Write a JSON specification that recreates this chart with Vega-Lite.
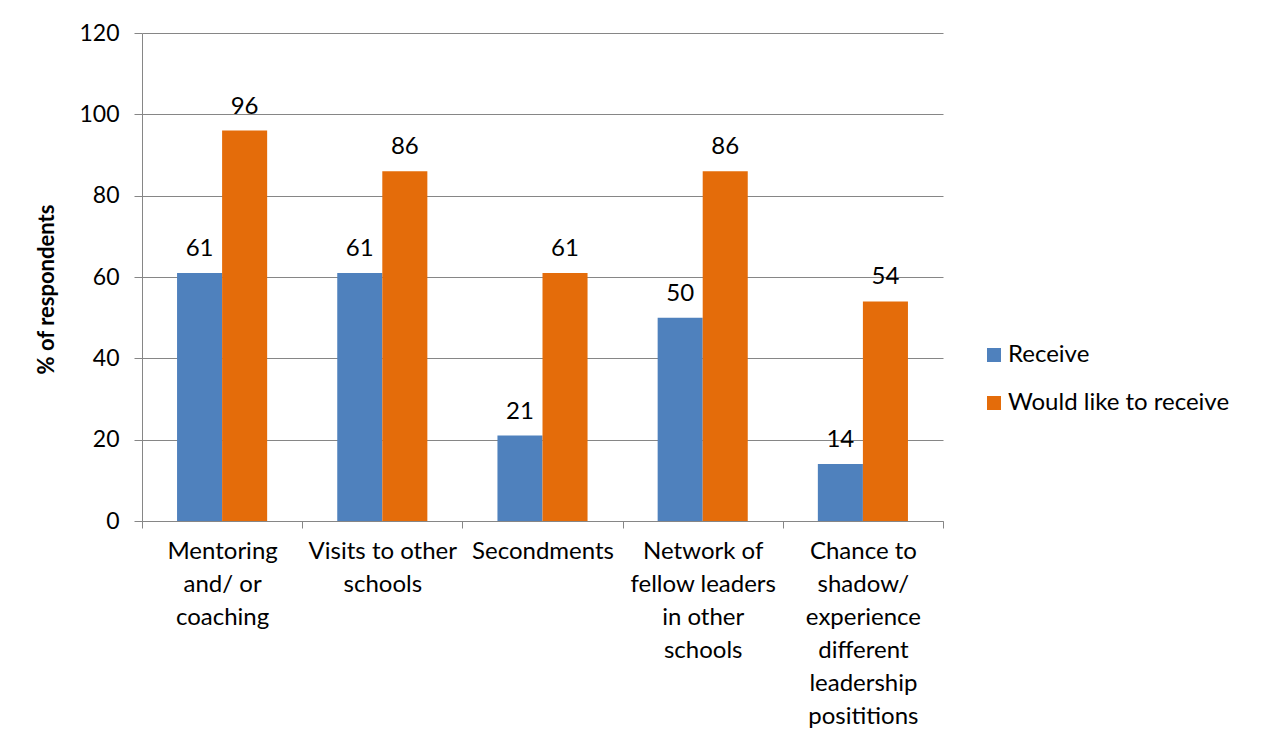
{
  "$schema": "https://vega.github.io/schema/vega-lite/v6.json",
  "autosize": {"type": "none"},
  "padding": {"left": 142, "top": 33, "right": 318, "bottom": 230},
  "width": 801,
  "height": 488,
  "background": "white",
  "config": {
    "font": "Lato",
    "view": {"stroke": null},
    "axis": {"labelFont": "Lato", "titleFont": "Lato", "labelColor": "black", "titleColor": "black"}
  },
  "data": {
    "values": [
      {"category": "Mentoring and/ or coaching", "series": "Receive", "value": 61},
      {"category": "Mentoring and/ or coaching", "series": "Would like to receive", "value": 96},
      {"category": "Visits to other schools", "series": "Receive", "value": 61},
      {"category": "Visits to other schools", "series": "Would like to receive", "value": 86},
      {"category": "Secondments", "series": "Receive", "value": 21},
      {"category": "Secondments", "series": "Would like to receive", "value": 61},
      {"category": "Network of fellow leaders in other schools", "series": "Receive", "value": 50},
      {"category": "Network of fellow leaders in other schools", "series": "Would like to receive", "value": 86},
      {"category": "Chance to shadow/ experience different leadership positition", "series": "Receive", "value": 14},
      {"category": "Chance to shadow/ experience different leadership positition", "series": "Would like to receive", "value": 54}
    ]
  },
  "encoding": {
    "x": {
      "field": "category",
      "type": "nominal",
      "sort": null,
      "scale": {"paddingInner": 0, "paddingOuter": 0},
      "axis": {
        "title": null,
        "labelAngle": 0,
        "labelFontSize": 24,
        "labelLineHeight": 33,
        "labelPadding": 11,
        "labelBaseline": "top",
        "tickBand": "extent",
        "tickSize": 7,
        "tickColor": "#868686",
        "domainColor": "#868686",
        "grid": false,
        "labelExpr": "datum.value == 'Mentoring and/ or coaching' ? ['Mentoring', 'and/ or', 'coaching'] : datum.value == 'Visits to other schools' ? ['Visits to other', 'schools'] : datum.value == 'Secondments' ? ['Secondments'] : datum.value == 'Network of fellow leaders in other schools' ? ['Network of', 'fellow leaders', 'in other', 'schools'] : datum.value == 'Chance to shadow/ experience different leadership positition' ? ['Chance to', 'shadow/', 'experience', 'different', 'leadership', 'posititions'] : ''"
      }
    },
    "xOffset": {
      "field": "series",
      "type": "nominal",
      "scale": {"paddingInner": 0, "paddingOuter": 0.778}
    },
    "y": {
      "field": "value",
      "type": "quantitative",
      "scale": {"domain": [0, 120]},
      "axis": {
        "title": "% of respondents",
        "titleFontSize": 22,
        "titleFontWeight": "bold",
        "titleAngle": -90,
        "titleX": -96,
        "titleY": 256,
        "titleAlign": "center",
        "titleBaseline": "middle",
        "values": [0, 20, 40, 60, 80, 100, 120],
        "labelFontSize": 23,
        "labelPadding": 15,
        "tickSize": 8,
        "tickColor": "#868686",
        "domainColor": "#868686",
        "gridColor": "#868686",
        "gridWidth": 1
      }
    }
  },
  "layer": [
    {
      "mark": {"type": "bar"},
      "encoding": {
        "color": {
          "field": "series",
          "type": "nominal",
          "scale": {"domain": ["Receive", "Would like to receive"], "range": ["#4F81BD", "#E46C0A"]},
          "legend": {
            "title": null,
            "orient": "none",
            "legendX": 840,
            "legendY": 310,
            "symbolType": "square",
            "symbolSize": 196,
            "symbolStrokeWidth": 0,
            "labelFontSize": 24,
            "labelFont": "Lato",
            "labelColor": "black",
            "labelLimit": 400,
            "rowPadding": 24,
            "labelOffset": 2
          }
        }
      }
    },
    {
      "mark": {"type": "text", "baseline": "alphabetic", "dy": -17, "fontSize": 24, "font": "Lato", "color": "black"},
      "encoding": {"text": {"field": "value", "type": "quantitative"}}
    }
  ]
}
